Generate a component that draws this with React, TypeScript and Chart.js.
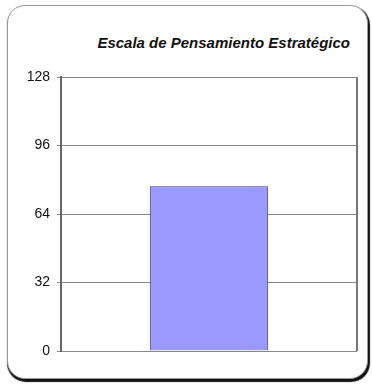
import React, { useEffect, useRef } from "react";
import { Chart, registerables } from "chart.js";

Chart.register(...registerables);

const categories = ["Pensamiento Estratégico"];
const values = [77];
const yTicks = [0, 32, 64, 96, 128];
const titleText = "Escala de Pensamiento Estratégico";

export default function App() {
  const ref = useRef<HTMLCanvasElement | null>(null);

  useEffect(() => {
    if (!ref.current) return;
    const chart = new Chart(ref.current, {
      type: "bar",
      data: {
        labels: categories,
        datasets: [
          {
            data: values,
            backgroundColor: "#9999FF",
            borderColor: "#3a3a70",
            borderWidth: 1,
            barPercentage: 0.4,
            categoryPercentage: 1.0,
          },
        ],
      },
      options: {
        animation: false,
        responsive: false,
        layout: { padding: { top: 77, left: 26, right: 15, bottom: 33 } },
        plugins: {
          legend: { display: false },
          tooltip: { enabled: false },
          title: { display: false },
        },
        scales: {
          x: {
            display: true,
            ticks: { display: false },
            grid: {
              display: true,
              offset: true,
              drawTicks: false,
              color: "#777",
              lineWidth: 2,
            },
            border: { display: false },
          },
          y: {
            min: yTicks[0],
            max: yTicks[yTicks.length - 1],
            afterBuildTicks: (scale: any) => {
              scale.ticks = yTicks.map((v) => ({ value: v }));
            },
            afterFit: (scale: any) => {
              scale.width = 35;
            },
            ticks: {
              padding: 7,
              color: "#111",
              font: { family: "'Liberation Sans', Arial, sans-serif", size: 14 },
            },
            grid: { color: "#888", lineWidth: 1, tickLength: 4 },
            border: { display: true, color: "#666", width: 2 },
          },
        },
      },
    });
    return () => chart.destroy();
  }, []);

  return (
    <div
      style={{
        position: "fixed",
        left: 0,
        top: 0,
        width: 372,
        height: 384,
        background: "#fff",
        overflow: "hidden",
      }}
    >
      <div
        style={{
          position: "absolute",
          left: 7,
          top: 5,
          width: 361,
          height: 374,
          boxSizing: "border-box",
          border: "1px solid #9a9a9a",
          borderRadius: 18,
          boxShadow: "1px 2px 1px 1px #111",
          background: "#fff",
        }}
      />
      <div
        style={{
          position: "absolute",
          right: 22,
          top: 34,
          fontFamily: "'Liberation Sans', Arial, sans-serif",
          fontSize: 15,
          fontWeight: "bold",
          fontStyle: "italic",
          color: "#111",
          whiteSpace: "nowrap",
          lineHeight: "normal",
        }}
      >
        {titleText}
      </div>
      <canvas
        ref={ref}
        width={372}
        height={384}
        style={{ position: "absolute", left: 0, top: 0, width: 372, height: 384 }}
      />
    </div>
  );
}
